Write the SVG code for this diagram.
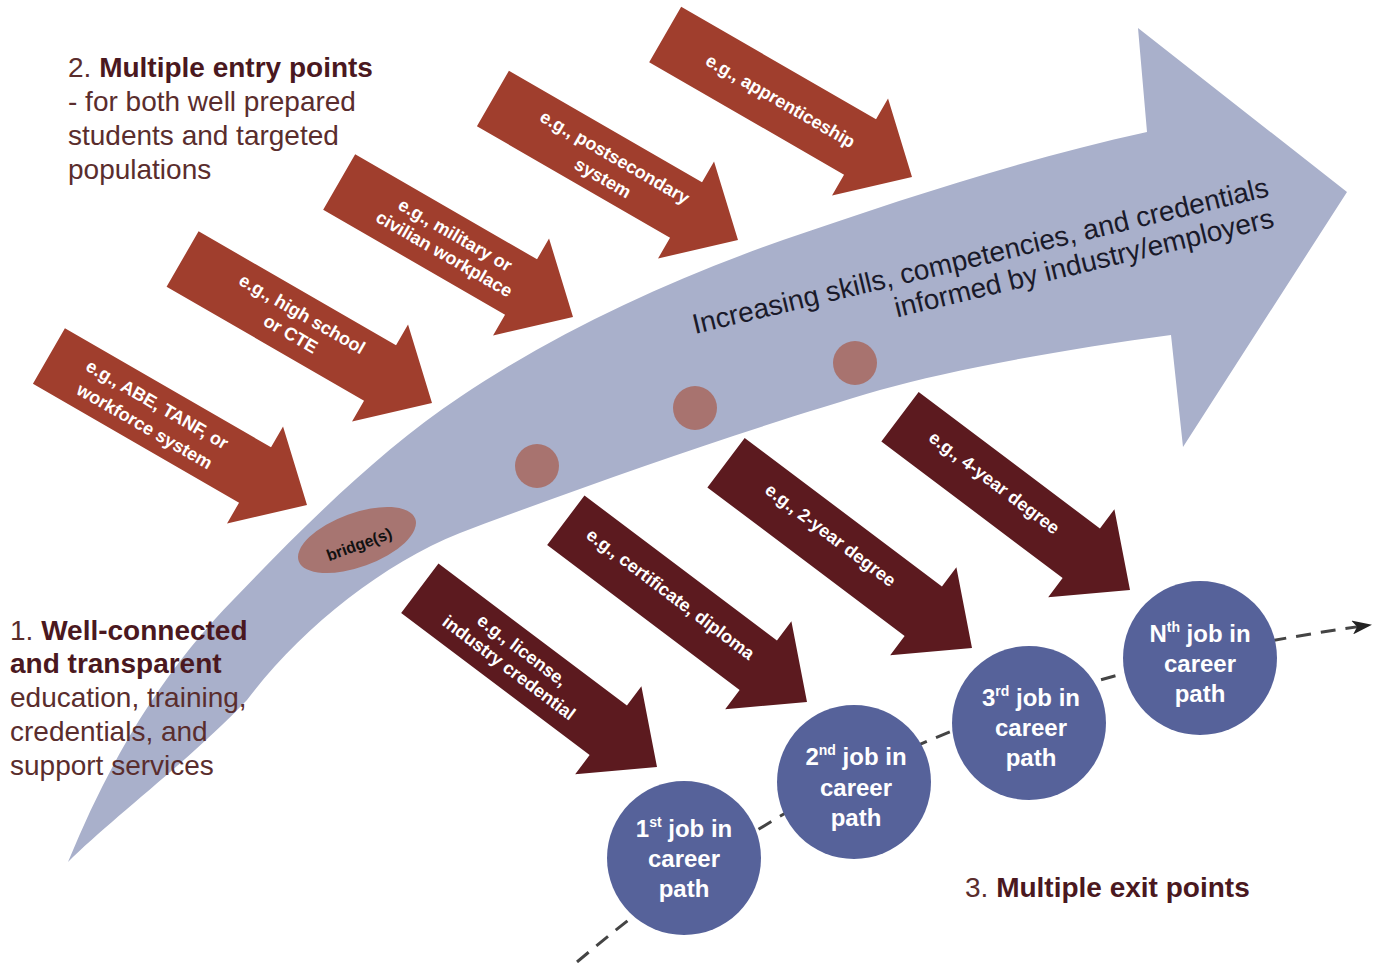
<svg xmlns="http://www.w3.org/2000/svg" width="1374" height="963" viewBox="0 0 1374 963">
<defs>
<style>
.entry{fill:#a03e2d}
.exit{fill:#5c1a1f}
.at{font-family:"Liberation Sans",Arial,sans-serif;font-weight:bold;font-size:18px;fill:#ffffff;text-anchor:middle}
.lbl{font-family:"Liberation Sans",Arial,sans-serif;font-size:28px;fill:#5a2d2d}
.lbl .b{font-weight:bold;fill:#4a1820}
.job{fill:#56629a}
.jt{font-family:"Liberation Sans",Arial,sans-serif;font-weight:bold;font-size:24px;fill:#ffffff;text-anchor:middle}
.dot{fill:#a8736f}
</style>
<marker id="ah" markerWidth="20" markerHeight="14" refX="18" refY="7" orient="auto" markerUnits="userSpaceOnUse">
<path d="M0,0 L20,7 L0,14 L5,7 Z" fill="#222"/>
</marker>
</defs>
<rect width="1374" height="963" fill="#ffffff"/>

<g id="entry-arrows">
<g id="entry1" transform="translate(307,505) rotate(30)">
<path class="entry" d="M0,0 L-60,-56 L-60,-32 L-298,-32 L-298,32 L-60,32 L-60,56 Z"/>
<text class="at" x="-180" y="-6">e.g., ABE, TANF, or</text>
<text class="at" x="-180" y="19">workforce system</text>
</g>
<g id="entry2" transform="translate(432,403) rotate(30)">
<path class="entry" d="M0,0 L-60,-56 L-60,-32 L-288,-32 L-288,32 L-60,32 L-60,56 Z"/>
<text class="at" x="-157" y="-6">e.g., high school</text>
<text class="at" x="-157" y="17">or CTE</text>
</g>
<g id="entry3" transform="translate(573,317) rotate(30)">
<path class="entry" d="M0,0 L-60,-56 L-60,-32 L-270,-32 L-270,32 L-60,32 L-60,56 Z"/>
<text class="at" x="-143" y="-6">e.g., military or</text>
<text class="at" x="-143" y="16">civilian workplace</text>
</g>
<g id="entry4" transform="translate(738,240) rotate(30)">
<path class="entry" d="M0,0 L-60,-56 L-60,-32 L-283,-32 L-283,32 L-60,32 L-60,56 Z"/>
<text class="at" x="-148" y="-4">e.g., postsecondary</text>
<text class="at" x="-148" y="20">system</text>
</g>
<g id="entry5" transform="translate(912,177) rotate(30)">
<path class="entry" d="M0,0 L-60,-56 L-60,-32 L-285,-32 L-285,32 L-60,32 L-60,56 Z"/>
<text class="at" x="-152" y="6">e.g., apprenticeship</text>
</g>
</g>

<g id="pathway">
<path d="M68,862 C110,760 160,675 233,600 C300,530 380,450 460,397 C560,330 670,280 783,240 C900,200 1020,160 1147,132 L1138,28 L1347,192 L1183,447 L1171,335 C1060,350 950,370 880,390 C760,425 600,480 460,533 C380,565 300,630 247,700 C190,760 110,820 68,862 Z" fill="#a9b0cb"/>
<text font-family="Liberation Sans,Arial,sans-serif" font-size="28" fill="#1a1a2a" text-anchor="end" transform="translate(1270,196) rotate(-13.5)"><tspan x="0" y="0">Increasing skills, competencies, and credentials</tspan><tspan x="-2" y="31">informed by industry/employers</tspan></text>
</g>

<g id="bridge">
<ellipse cx="357" cy="540" rx="62" ry="27" transform="rotate(-20 357 540)" fill="#a77571"/>
<text x="359" y="550" font-family="Liberation Sans,Arial,sans-serif" font-weight="bold" font-size="16" fill="#111" text-anchor="middle" transform="rotate(-20 359 544)">bridge(s)</text>
</g>
<g id="steps">
<circle class="dot" cx="537" cy="466" r="22"/>
<circle class="dot" cx="695" cy="408" r="22"/>
<circle class="dot" cx="855" cy="363" r="22"/>
</g>

<g id="exit-arrows">
<g id="exit1" transform="translate(657,767) rotate(37)">
<path class="exit" d="M0,0 L-61,-55 L-61,-31 L-297,-31 L-297,31 L-61,31 L-61,55 Z"/>
<text class="at" x="-178" y="-6">e.g., license,</text>
<text class="at" x="-178" y="16">industry credential</text>
</g>
<g id="exit2" transform="translate(807,702) rotate(37)">
<path class="exit" d="M0,0 L-61,-55 L-61,-31 L-302,-31 L-302,31 L-61,31 L-61,55 Z"/>
<text class="at" x="-174" y="2">e.g., certificate, diploma</text>
</g>
<g id="exit3" transform="translate(972,648) rotate(37)">
<path class="exit" d="M0,0 L-61,-55 L-61,-31 L-308,-31 L-308,31 L-61,31 L-61,55 Z"/>
<text class="at" x="-181" y="1">e.g., 2-year degree</text>
</g>
<g id="exit4" transform="translate(1130,590) rotate(37)">
<path class="exit" d="M0,0 L-61,-55 L-61,-31 L-288,-31 L-288,31 L-61,31 L-61,55 Z"/>
<text class="at" x="-173" y="2">e.g., 4-year degree</text>
</g>
</g>

<g id="connectors">
<path d="M577,962 C827,750 1070,667 1370,625" fill="none" stroke="#444" stroke-width="3" stroke-dasharray="15,10" marker-end="url(#ah)"/>
</g>

<g id="job1">
<circle class="job" cx="684" cy="858" r="77"/>
<text class="jt" x="684" y="837">1<tspan font-size="14" dy="-10">st</tspan><tspan dy="10"> job in</tspan></text>
<text class="jt" x="684" y="867">career</text>
<text class="jt" x="684" y="897">path</text>
</g>
<g id="job2">
<circle class="job" cx="854" cy="782" r="77"/>
<text class="jt" x="856" y="765">2<tspan font-size="14" dy="-10">nd</tspan><tspan dy="10"> job in</tspan></text>
<text class="jt" x="856" y="796">career</text>
<text class="jt" x="856" y="826">path</text>
</g>
<g id="job3">
<circle class="job" cx="1029" cy="723" r="77"/>
<text class="jt" x="1031" y="706">3<tspan font-size="14" dy="-10">rd</tspan><tspan dy="10"> job in</tspan></text>
<text class="jt" x="1031" y="736">career</text>
<text class="jt" x="1031" y="766">path</text>
</g>
<g id="jobN">
<circle class="job" cx="1200" cy="658" r="77"/>
<text class="jt" x="1200" y="642">N<tspan font-size="14" dy="-10">th</tspan><tspan dy="10"> job in</tspan></text>
<text class="jt" x="1200" y="672">career</text>
<text class="jt" x="1200" y="702">path</text>
</g>

<g id="label-entry">
<text class="lbl" x="68" y="77">2. <tspan class="b">Multiple entry points</tspan></text>
<text class="lbl" x="68" y="111">- for both well prepared</text>
<text class="lbl" x="68" y="145">students and targeted</text>
<text class="lbl" x="68" y="179">populations</text>
</g>
<g id="label-connected">
<text class="lbl" x="10" y="640">1. <tspan class="b">Well-connected</tspan></text>
<text class="lbl" x="10" y="673"><tspan class="b">and transparent</tspan></text>
<text class="lbl" x="10" y="707">education, training,</text>
<text class="lbl" x="10" y="741">credentials, and</text>
<text class="lbl" x="10" y="775">support services</text>
</g>
<g id="label-exit">
<text class="lbl" x="965" y="897">3. <tspan class="b">Multiple exit points</tspan></text>
</g>
</svg>
